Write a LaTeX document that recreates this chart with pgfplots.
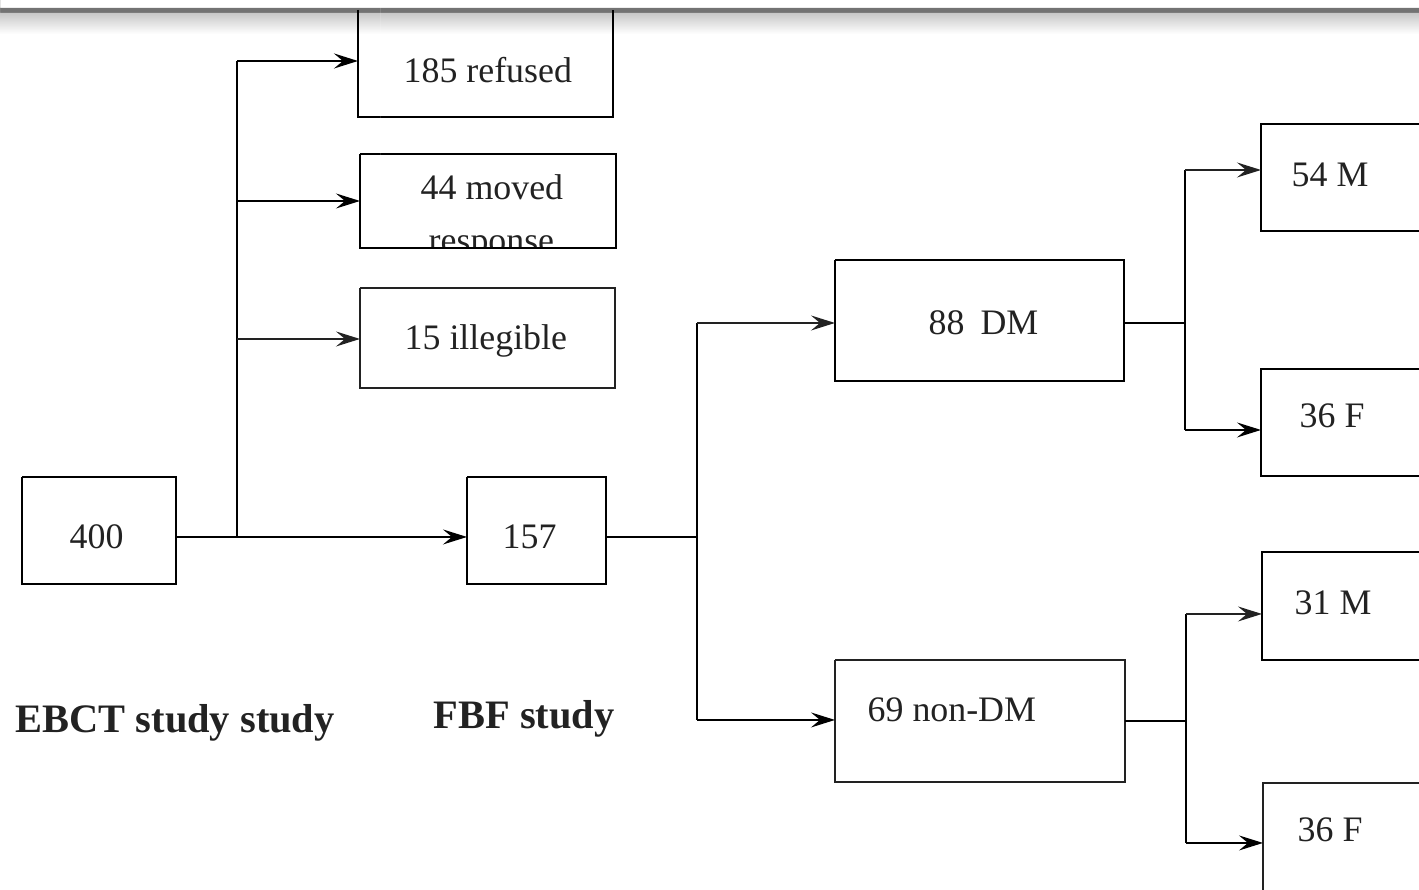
\documentclass[border=0pt]{standalone}
\usepackage{pgfplots}
\pgfplotsset{compat=1.18}
\usetikzlibrary{arrows.meta}
\usepackage{fontspec}
\setmainfont{Liberation Serif}
\definecolor{ink}{HTML}{222222}
\tikzset{
  arr/.style={-{Stealth[length=2.4mm,width=1.5mm,inset=0.9mm]}},
  lab/.style={anchor=base west, inner sep=0pt, font=\fontsize{10.2}{12}\selectfont, text=ink},
  blab/.style={anchor=base west, inner sep=0pt, font=\fontsize{11.5}{13}\selectfont\bfseries, text=ink},
}
\begin{document}
\begin{tikzpicture}
\begin{axis}[
  width=14.19cm, height=8.9cm, scale only axis,
  xmin=0, xmax=1419, ymin=0, ymax=890, y dir=reverse,
  hide axis,
  cycle list={{ink, solid, line width=0.8pt, mark=none}},
]
\path (axis cs:0,0) rectangle (axis cs:1419,890);
% scanner shadow along the top
\addplot[draw=none, fill=white!45!black] coordinates {(0,8) (1419,8) (1419,13) (0,13)} \closedcycle;
\addplot[draw=none, top color=white!65!black, bottom color=white] coordinates {(0,13) (1419,13) (1419,34) (0,34)} \closedcycle;

% boxes
\addplot coordinates {(358,10) (358,117) (613,117) (613,10)};
\addplot coordinates {(360,154) (616,154) (616,248) (360,248) (360,154)};
\addplot coordinates {(360,288) (615,288) (615,388) (360,388) (360,288)};
\addplot coordinates {(22,477) (176,477) (176,584) (22,584) (22,477)};
\addplot coordinates {(467,477) (606,477) (606,584) (467,584) (467,477)};
\addplot coordinates {(835,260) (1124,260) (1124,381) (835,381) (835,260)};
\addplot coordinates {(835,660) (1125,660) (1125,782) (835,782) (835,660)};
\addplot coordinates {(1430,124) (1261,124) (1261,231) (1430,231)};
\addplot coordinates {(1430,369) (1261,369) (1261,476) (1430,476)};
\addplot coordinates {(1430,552) (1262,552) (1262,660) (1430,660)};
\addplot coordinates {(1430,783) (1263,783) (1263,900)};

% connectors
\addplot coordinates {(237,61) (237,537)};
\addplot+[arr] coordinates {(237,61) (358,61)};
\addplot+[arr] coordinates {(237,201) (360,201)};
\addplot+[arr] coordinates {(237,339) (360,339)};
\addplot+[arr] coordinates {(176,537) (467,537)};
\addplot coordinates {(606,537) (697,537)};
\addplot coordinates {(697,323) (697,720)};
\addplot+[arr] coordinates {(697,323) (835,323)};
\addplot+[arr] coordinates {(697,720) (835,720)};
\addplot coordinates {(1124,323) (1185,323)};
\addplot coordinates {(1185,170) (1185,430)};
\addplot+[arr] coordinates {(1185,170) (1261,170)};
\addplot+[arr] coordinates {(1185,430) (1261,430)};
\addplot coordinates {(1125,721) (1186,721)};
\addplot coordinates {(1186,614) (1186,843)};
\addplot+[arr] coordinates {(1186,614) (1262,614)};
\addplot+[arr] coordinates {(1186,843) (1263,843)};

% texts
\node[lab] at (axis cs:403,83) {185 refused};
\node[lab] at (axis cs:420,200) {44 moved};
\node[lab] at (axis cs:428,253) {response};
\addplot[draw=none, fill=white] coordinates {(380,249) (600,249) (600,270) (380,270)} \closedcycle;
\addplot coordinates {(360,248) (616,248)};
\node[lab] at (axis cs:404,350) {15 illegible};
\node[lab] at (axis cs:69,549) {400};
\node[lab] at (axis cs:502,549) {157};
\node[lab] at (axis cs:928,335) {88\ \kern2pt DM};
\node[lab] at (axis cs:867,722) {69 non-DM};
\node[lab] at (axis cs:1291,187) {54 M};
\node[lab] at (axis cs:1299,428) {36 F};
\node[lab] at (axis cs:1294,615) {31 M};
\node[lab] at (axis cs:1297,842) {36 F};
\node[blab] at (axis cs:15,733) {EBCT study study};
\node[blab] at (axis cs:433,729) {FBF study};
\end{axis}
\end{tikzpicture}
\end{document}
